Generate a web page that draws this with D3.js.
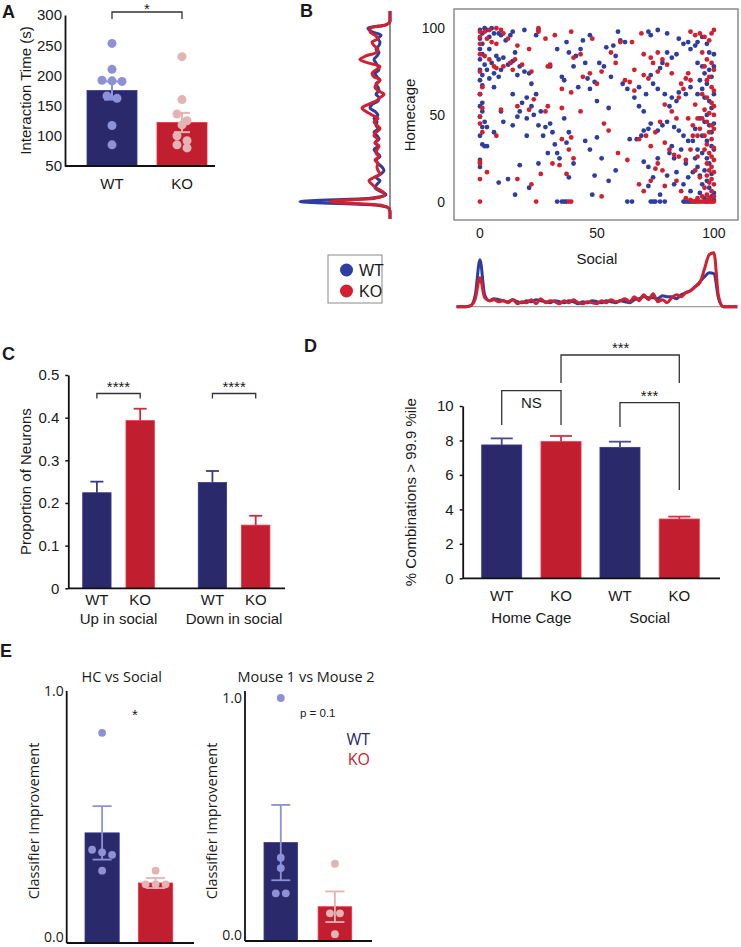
<!DOCTYPE html>
<html>
<head>
<meta charset="utf-8">
<script src="https://cdn.jsdelivr.net/npm/d3@7"></script>
<style>
  body { margin: 0; background: #fff; }
  svg { display: block; }
</style>
</head>
<body>
<svg id="fig"></svg>
<script>
// -----------------------------
// DATA
// -----------------------------
const genotypes = ["WT", "KO"];

// A: interaction time
const ticksA = [50, 100, 150, 200, 250, 300];
const meanA = [175, 122];
const semA = [15, 16];
const pointsA_WT = [253, 210, 192, 191, 190, 166, 162, 117, 85];
const pointsA_KO = [231, 160, 136, 125, 118, 100, 92, 85, 80];

// B: scatter (social, homecage)
const wtScatter = [
  [0,99],[1,97],[0,94],[1,91],[0,88],[1,85],[0,82],[2,79],[0,76],[1,73],[0,70],[1,67],[0,62],[1,57],[0,55],[1,52],[0,49],[2,46],[1,43],[3,43],[0,38],[1,33],[2,32],[3,32],[0,24],[0,20],
  [2,100],[3,99],[5,100],[6,97],[4,95],[8,97],[9,96],[11,93],[13,96],[14,98],[19,99],[25,99],[24,96],[4,88],[7,84],[8,82],[5,80],[10,83],[12,79],[14,81],[15,86],[17,78],[3,76],[6,74],[9,76],[13,80],[16,73],[19,75],[21,74],[6,66],[8,72],[4,71],
  [14,62],[18,57],[20,60],[22,68],[24,62],[22,55],[17,52],[9,52],[10,46],[6,40],[14,44],[16,49],[20,48],[23,50],[26,52],[25,44],[28,43],[31,40],[27,38],[30,45],[20,38],[32,33],[29,28],[33,28],[25,22],[17,21],[12,13],[8,11],[15,4],[21,8],[36,48],[38,40],[37,34],[34,25],[40,22],[38,14],
  [30,78],[33,88],[37,92],[38,86],[41,84],[43,88],[44,93],[47,96],[45,80],[40,78],[42,66],[36,70],[35,72],[46,71],[47,65],[49,69],[50,58],[55,54],[56,72],[53,78],[51,80],[54,89],[57,90],[59,98],[60,93],[62,92],[58,84],[61,68],[63,65],[45,35],[50,37],[47,30],[52,25],[49,15],[48,4],[55,12],[58,18],[33,0],[35,0],[36,0],[37,0],
  [64,36],[67,36],[69,38],[70,41],[72,42],[73,45],[70,52],[68,55],[66,60],[68,66],[71,62],[74,68],[73,73],[77,77],[78,80],[80,86],[82,83],[84,85],[76,65],[79,62],[82,60],[85,63],[88,62],[90,66],[84,58],[81,55],[76,41],[78,44],[80,46],[83,43],[85,41],[87,38],[89,35],[82,32],[81,28],[83,25],[86,30],[88,22],[76,25],[72,20],[70,23],[74,14],[80,15],[83,10],[84,17],[87,10],[89,14],[90,6],[77,4],[72,9],
  [63,0],[65,0],[73,0],[74,0],[75,0],[77,0],[79,0],[87,0],[88,0],[89,0],[90,0],[91,0],[92,0],[76,99],[72,98],[73,96],[80,97],[85,94],[87,91],[89,92],[90,88],[92,90],[93,92],[95,95],[97,91],[98,86],
  [93,80],[95,78],[96,74],[98,76],[99,72],[97,68],[95,65],[93,62],[96,60],[98,58],[99,54],[97,50],[94,48],[96,46],[98,44],[99,40],[95,38],[97,35],[99,32],[93,30],[95,28],[97,25],[98,22],[96,18],[99,16],[94,15],[97,12],[95,10],[98,8],[100,5],[99,3],[96,2],[100,30],[100,45],[100,62],[100,78],[100,85],[94,70],[92,42],[91,35],[92,25],[93,20],[91,17],[94,5],[97,0],[99,0],[100,1]
];
const koScatter = [
  [0,98],[0,95],[0,91],[0,85],[0,75],[1,66],[0,62],[1,54],[0,49],[0,45],[1,40],[0,23],[0,22],[0,13],[0,0],[3,17],[7,38],
  [2,98],[4,99],[7,100],[9,99],[10,97],[3,94],[5,92],[7,91],[12,94],[16,90],[21,88],[25,100],[25,98],[28,94],[32,96],[39,98],[6,78],[10,78],[13,80],[15,82],[14,76],[18,79],[22,75],[2,84],[4,82],[7,77],[30,79],[29,78],[35,65],[39,63],[47,74],[40,83],[43,85],[48,94],[44,72],[50,68],[52,75],[56,86],[58,80],
  [9,53],[16,55],[21,53],[23,59],[29,55],[28,52],[35,54],[43,52],[38,30],[40,25],[39,37],[35,36],[26,16],[31,22],[34,21],[37,16],[24,0],[38,0],[39,0],[16,13],[22,10],[52,3],[53,45],[55,41],[59,28],[63,24],
  [60,92],[65,92],[69,97],[70,85],[73,83],[76,86],[78,82],[74,80],[66,76],[70,73],[62,70],[64,69],[66,64],[72,71],[76,75],[80,79],[82,74],[86,68],[88,71],[89,74],[90,70],[87,65],[85,60],[79,56],[82,52],[84,48],[77,46],[75,40],[71,38],[68,36],[73,32],[79,34],[81,30],[83,27],[85,26],[88,24],[75,19],[78,18],[76,22],[73,12],[68,10],[70,6],[84,12],[86,6],[88,2],[79,9],
  [90,98],[92,96],[94,97],[96,95],[98,93],[99,97],[100,99],[95,86],[97,82],[99,80],[96,78],[100,76],[98,72],[97,70],[99,66],[100,64],[95,62],[97,60],[99,57],[100,55],[96,53],[98,51],[100,50],[95,48],[97,46],[99,44],[100,42],[98,40],[96,38],[99,36],[97,33],[100,31],[96,30],[98,28],[99,26],[100,24],[97,22],[99,20],[98,18],[100,17],[97,15],[99,13],[98,11],[100,10],[96,8],[99,6],[97,4],[100,3],[92,56],[93,48],[94,42],[91,38],[90,30],[93,26],[92,18],[94,14],[91,44],[89,48],[93,38],
  [92,0],[93,0],[94,0],[95,0],[96,0],[97,0],[98,0],[99,0],[100,0],[91,0],[90,1],[93,2],[95,3],[98,2]
];
const scatterTicks = [0, 50, 100];

// B: marginal densities (relative units), sampled on a grid of scores
const densityGrid = [-10,-8,-6,-4,-2,0,2,4,6,8,10,12,14,16,18,20,22,24,26,28,30,32,34,36,38,40,42,44,46,48,50,52,54,56,58,60,62,64,66,68,70,72,74,76,78,80,82,84,86,88,90,92,94,96,98,100,102,104,106,108,110];
const wtHomecageDensity = [0,0,0,1,15,90,20,4,10,15,13,10,14,9,6,8,12,14,10,13,16,12,15,11,13,16,12,14,13,16,12,15,20,18,12,11,14,11,12,14,10,13,15,11,12,14,16,13,11,14,11,10,12,9,18,22,4,0,0,0,0];
const koHomecageDensity = [0,0,0,1,10,60,15,5,8,14,18,21,16,10,12,13,12,15,11,14,13,11,15,12,16,14,10,13,16,12,18,24,28,22,14,10,6,12,15,13,10,16,18,14,10,22,30,24,14,12,16,18,12,15,20,20,4,0,0,0,0];
const wtSocialDensity = [0,0,0,1,12,47,12,6,8,7,6,5,7,5,4,6,5,7,6,5,4,6,5,4,6,5,3,5,4,6,5,4,6,5,4,6,5,4,7,8,10,9,9,8,11,10,10,8,12,14,16,20,25,30,34,33,8,0,0,0,0];
const koSocialDensity = [0,0,0,1,8,29,9,6,7,5,6,4,7,3,5,4,7,3,8,4,6,5,3,6,4,7,4,3,5,4,3,6,4,7,5,6,8,5,10,6,12,7,13,5,7,4,9,12,10,14,16,20,24,38,52,54,10,0,0,0,0];

// C: proportion of neurons
const catsC = ["Up in social", "Down in social"];
const ticksC = [0, 0.1, 0.2, 0.3, 0.4, 0.5];
const meanC_WT = [0.224, 0.248];
const semC_WT = [0.026, 0.027];
const meanC_KO = [0.393, 0.148];
const semC_KO = [0.028, 0.022];

// D: % combinations
const catsD = ["Home Cage", "Social"];
const ticksD = [0, 2, 4, 6, 8, 10];
const meanD_WT = [7.74, 7.60];
const semD_WT = [0.38, 0.33];
const meanD_KO = [7.93, 3.44];
const semD_KO = [0.33, 0.14];

// E: classifier improvement
const titlesE = ["HC vs Social", "Mouse 1 vs Mouse 2"];
const ticksE = [0, 1];
const meanE_WT = [0.437, 0.405];
const semE_WT = [0.106, 0.155];
const meanE_KO = [0.238, 0.141];
const semE_KO = [0.020, 0.063];
const pointsE_WT = [[0.834, 0.37, 0.36, 0.35, 0.287], [1.0, 0.343, 0.30, 0.196, 0.196]];
const pointsE_KO = [[0.287, 0.233, 0.233, 0.233], [0.318, 0.114, 0.114, 0.028]];

// -----------------------------
// STYLE
// -----------------------------
const NAVY = "#29296c", RED = "#c11e2f", LAV = "#8e91d6", PINK = "#e4b3b4";
const DOT_BLUE = "#2d3e9f", DOT_RED = "#d2202f";
const SANS = "'Liberation Sans', Arial, sans-serif";
const HUMAN = "'Open Sans', sans-serif";
const INK = "#1a1a1a";

const svg = d3.select("#fig").attr("width", 741).attr("height", 947)
  .style("font-family", SANS);

// -----------------------------
// HELPERS
// -----------------------------
function label(g, x, y, txt, opts = {}) {
  return g.append("text")
    .attr("x", x).attr("y", y)
    .attr("text-anchor", opts.anchor || "middle")
    .attr("font-size", opts.size || 14)
    .attr("font-weight", opts.weight || "normal")
    .attr("font-family", opts.font || SANS)
    .attr("fill", opts.fill || INK)
    .attr("transform", opts.rotate ? `rotate(-90,${x},${y})` : null)
    .text(txt);
}

function yAxis(g, scale, x, ticks, fmt, size, tickSize, font, top) {
  const ax = d3.axisLeft(scale).tickValues(ticks).tickFormat(fmt)
    .tickSize(tickSize).tickSizeOuter(0).tickPadding(tickSize + 3);
  const a = g.append("g").attr("transform", `translate(${x},0)`).call(ax);
  a.select(".domain").attr("stroke", "#111").attr("stroke-width", 1.8);
  if (top !== undefined) a.select(".domain").attr("d", `M0,${scale.range()[0]}V${top}`);
  a.selectAll(".tick line").attr("stroke", "#111").attr("stroke-width", 1.5);
  a.selectAll(".tick text").attr("font-size", size).attr("fill", INK)
    .attr("font-family", font || SANS);
  return a;
}

function hLine(g, x1, x2, y) {
  g.append("line").attr("x1", x1).attr("x2", x2).attr("y1", y).attr("y2", y)
    .attr("stroke", "#111").attr("stroke-width", 1.8);
}

function bar(g, x, w, y, y0, fill) {
  g.append("rect").attr("x", x).attr("width", w)
    .attr("y", y).attr("height", y0 - y)
    .attr("fill", fill)
    .attr("stroke", d3.color(fill).brighter(0.8)).attr("stroke-width", 0.8);
}

function errBar(g, cx, yHi, yLo, cap, color, width) {
  g.append("line").attr("x1", cx).attr("x2", cx).attr("y1", yHi).attr("y2", yLo)
    .attr("stroke", color).attr("stroke-width", width);
  g.append("line").attr("x1", cx - cap / 2).attr("x2", cx + cap / 2).attr("y1", yHi).attr("y2", yHi)
    .attr("stroke", color).attr("stroke-width", width);
}

function errBarBoth(g, cx, yHi, yLo, cap, color, width) {
  errBar(g, cx, yHi, yLo, cap, color, width);
  g.append("line").attr("x1", cx - cap / 2).attr("x2", cx + cap / 2).attr("y1", yLo).attr("y2", yLo)
    .attr("stroke", color).attr("stroke-width", width);
}

function bracket(g, x1, x2, yTop, y1End, y2End) {
  g.append("path")
    .attr("d", `M${x1},${y1End}V${yTop}H${x2}V${y2End}`)
    .attr("fill", "none").attr("stroke", "#333").attr("stroke-width", 1.3);
}

// swarm: points of near-equal height are set side by side, centred on the bar
function swarm(values, yScale, cx, r, step) {
  const sorted = values.slice().sort((a, b) => b - a).map(v => ({ v, y: yScale(v) }));
  const rows = [];
  sorted.forEach(p => {
    const last = rows[rows.length - 1];
    if (last && Math.abs(last[0].y - p.y) < 2 * r) last.push(p);
    else rows.push([p]);
  });
  const out = [];
  rows.forEach(row => row.forEach((p, i) => out.push({ x: cx + (i - (row.length - 1) / 2) * step, y: p.y })));
  return out;
}

function dots(g, pts, r, color) {
  g.selectAll(null).data(pts).join("circle")
    .attr("cx", d => d.x).attr("cy", d => d.y).attr("r", r).attr("fill", color);
}

// -----------------------------
// PANEL A
// -----------------------------
{
  const g = svg.append("g");
  label(g, 2, 18, "A", { anchor: "start", size: 18, weight: "bold" });
  const y = d3.scaleLinear().domain([50, 300]).range([166, 15]);
  const x = d3.scaleBand().domain(genotypes).range([87, 207]).paddingInner(2 / 7);
  const pts = [pointsA_WT, pointsA_KO];
  const fills = [NAVY, RED], light = [LAV, PINK];

  genotypes.forEach((gt, i) => {
    const cx = x(gt) + x.bandwidth() / 2;
    bar(g, x(gt), x.bandwidth(), y(meanA[i]), y(50), fills[i]);
    dots(g, swarm(pts[i], y, cx, 4.5, 10), 4.5, light[i]);
    errBarBoth(g, cx, y(meanA[i] + semA[i]), y(meanA[i] - semA[i]), 16, light[i], 2);
    label(g, cx, 189, gt, { size: 15 });
  });

  yAxis(g, y, 65, ticksA, d3.format("d"), 15, 0);
  hLine(g, 65, 215, 166);
  label(g, 31, (y(50) + y(300)) / 2, "Interaction Time (s)", { size: 15, rotate: true });

  const c0 = x("WT") + x.bandwidth() / 2, c1 = x("KO") + x.bandwidth() / 2;
  bracket(g, c0, c1, 12, 19, 19);
  label(g, (c0 + c1) / 2, 14, "*", { size: 15 });
}

// -----------------------------
// PANEL B
// -----------------------------
{
  const g = svg.append("g");
  label(g, 300, 17, "B", { anchor: "start", size: 18, weight: "bold" });

  const x = d3.scaleLinear().domain([-11.1, 110.3]).range([454, 738]);
  const y = d3.scaleLinear().domain([-10.6, 111.1]).range([220, 9]);

  g.append("rect").attr("x", 454).attr("y", 9).attr("width", 284).attr("height", 211)
    .attr("fill", "none").attr("stroke", "#7a7a7a").attr("stroke-width", 1.3);

  g.selectAll(null).data(wtScatter).join("circle")
    .attr("cx", d => x(d[0])).attr("cy", d => y(d[1])).attr("r", 2.4).attr("fill", DOT_BLUE);
  g.selectAll(null).data(koScatter).join("circle")
    .attr("cx", d => x(d[0])).attr("cy", d => y(d[1])).attr("r", 2.4).attr("fill", DOT_RED);

  scatterTicks.forEach(t => {
    label(g, x(t), 238, t, { size: 14 });
    label(g, 445, y(t) + 5, t, { size: 14, anchor: "end" });
  });
  label(g, x(50), 264, "Social", { size: 15 });
  label(g, 415, y(50), "Homecage", { size: 15, rotate: true });

  // left marginal (homecage)
  const xl = d3.scaleLinear().domain([0, 100]).range([390, 290]);
  g.append("line").attr("x1", 390).attr("x2", 390).attr("y1", y(110)).attr("y2", y(-10))
    .attr("stroke", "#222").attr("stroke-width", 1);
  const lineL = d3.line().x(d => xl(d[1])).y(d => y(d[0])).curve(d3.curveMonotoneY);
  [[wtHomecageDensity, DOT_BLUE], [koHomecageDensity, DOT_RED]].forEach(([dens, col]) => {
    g.append("path").attr("d", lineL(densityGrid.map((h, i) => [h, dens[i]])))
      .attr("fill", "none").attr("stroke", col).attr("stroke-width", 3).attr("stroke-linejoin", "round");
  });

  // bottom marginal (social)
  const yb = d3.scaleLinear().domain([0, 100]).range([306.7, 206.7]);
  g.append("line").attr("x1", x(-10)).attr("x2", x(110)).attr("y1", 306.7).attr("y2", 306.7)
    .attr("stroke", "#888").attr("stroke-width", 1);
  const lineB = d3.line().x(d => x(d[0])).y(d => yb(d[1])).curve(d3.curveMonotoneX);
  [[wtSocialDensity, DOT_BLUE], [koSocialDensity, DOT_RED]].forEach(([dens, col]) => {
    g.append("path").attr("d", lineB(densityGrid.map((s, i) => [s, dens[i]])))
      .attr("fill", "none").attr("stroke", col).attr("stroke-width", 3).attr("stroke-linejoin", "round");
  });

  // legend
  const lg = g.append("g");
  lg.append("rect").attr("x", 328).attr("y", 255).attr("width", 54).attr("height", 48)
    .attr("fill", "#fff").attr("stroke", "#8a8a8a").attr("stroke-width", 1);
  [[genotypes[0], DOT_BLUE], [genotypes[1], DOT_RED]].forEach(([name, col], i) => {
    lg.append("circle").attr("cx", 346.5).attr("cy", 270 + i * 21).attr("r", 6.5).attr("fill", col);
    label(lg, 359, 276 + i * 21, name, { size: 16, anchor: "start" });
  });
}

// -----------------------------
// PANEL C
// -----------------------------
{
  const g = svg.append("g");
  label(g, 2, 360, "C", { anchor: "start", size: 18, weight: "bold" });
  const y = d3.scaleLinear().domain([0, 0.5]).range([588.3, 375]);
  const x0 = d3.scaleBand().domain(catsC).range([82.7, 269.9]).paddingInner(0.38);
  const x1 = d3.scaleBand().domain(genotypes).range([0, x0.bandwidth()]).paddingInner(0.345);
  const means = [meanC_WT, meanC_KO], sems = [semC_WT, semC_KO], fills = [NAVY, RED];

  catsC.forEach((cat, ci) => {
    genotypes.forEach((gt, gi) => {
      const bx = x0(cat) + x1(gt), cx = bx + x1.bandwidth() / 2;
      const m = means[gi][ci], s = sems[gi][ci];
      bar(g, bx, x1.bandwidth(), y(m), y(0), fills[gi]);
      errBar(g, cx, y(m + s), y(m), 13, gi === 0 ? "#3a3a85" : "#cc2b3c", 1.8);
      label(g, cx, 605, gt, { size: 15 });
    });
    const c0 = x0(cat) + x1("WT") + x1.bandwidth() / 2;
    const c1 = x0(cat) + x1("KO") + x1.bandwidth() / 2;
    bracket(g, c0, c1, 393.5, 398.5, 398.5);
    label(g, (c0 + c1) / 2, 392, "****", { size: 15 });
    label(g, x0(cat) + x0.bandwidth() / 2, 624, cat, { size: 15 });
  });

  yAxis(g, y, 68.3, ticksC, d => d === 0 ? "0" : d3.format(".1f")(d), 15, 3);
  hLine(g, 68.3, 285, 588.3);
  label(g, 31, (y(0) + y(0.5)) / 2, "Proportion of Neurons", { size: 15, rotate: true });
}

// -----------------------------
// PANEL D
// -----------------------------
{
  const g = svg.append("g");
  label(g, 304, 352, "D", { anchor: "start", size: 18, weight: "bold" });
  const y = d3.scaleLinear().domain([0, 10]).range([578.3, 406]);
  const x0 = d3.scaleBand().domain(catsD).range([481.7, 699.3]).paddingInner(0.16);
  const x1 = d3.scaleBand().domain(genotypes).range([0, x0.bandwidth()]).paddingInner(0.325);
  const means = [meanD_WT, meanD_KO], sems = [semD_WT, semD_KO], fills = [NAVY, RED];
  const cx = (cat, gt) => x0(cat) + x1(gt) + x1.bandwidth() / 2;

  catsD.forEach((cat, ci) => {
    genotypes.forEach((gt, gi) => {
      const m = means[gi][ci], s = sems[gi][ci];
      bar(g, x0(cat) + x1(gt), x1.bandwidth(), y(m), y(0), fills[gi]);
      errBar(g, cx(cat, gt), y(m + s), y(m), 22, gi === 0 ? "#4a4a95" : "#d23446", 1.8);
      label(g, cx(cat, gt), 601, gt, { size: 15 });
    });
    label(g, x0(cat) + x0.bandwidth() / 2, 623, cat, { size: 15 });
  });

  yAxis(g, y, 462.7, ticksD, d3.format("d"), 15, 3);
  hLine(g, 462.7, 720, 578.3);
  label(g, 416, (y(0) + y(10)) / 2, "% Combinations > 99.9 %ile", { size: 15, rotate: true });

  // NS: WT vs KO home cage
  const hcW = cx("Home Cage", "WT"), hcK = cx("Home Cage", "KO");
  const soW = cx("Social", "WT"), soK = cx("Social", "KO");
  bracket(g, hcW, hcK, 390.7, 425, 425);
  label(g, (hcW + hcK) / 2, 408, "NS", { size: 15 });
  // KO home cage vs KO social
  bracket(g, hcK, soK, 355, 383, 383);
  label(g, (hcK + soK) / 2 + 0.5, 353, "***", { size: 15 });
  // WT social vs KO social
  bracket(g, soW, soK, 402.7, 427, 490);
  label(g, (soW + soK) / 2, 401, "***", { size: 15 });
}

// -----------------------------
// PANEL E
// -----------------------------
{
  const g = svg.append("g");
  label(g, 0, 657, "E", { anchor: "start", size: 18, weight: "bold" });

  const layout = [
    { axisX: 66.7, axisEnd: 194, titleX: 121.7, y0: 943, y1: 691, range: [85, 172.7], pad: 0.36 },
    { axisX: 245, axisEnd: 372, titleX: 306, y0: 941, y1: 698, range: [264, 351.7], pad: 0.38 }
  ];
  const fills = [NAVY, RED], light = [LAV, PINK];
  const means = [meanE_WT, meanE_KO], sems = [semE_WT, semE_KO], pts = [pointsE_WT, pointsE_KO];

  layout.forEach((L, pi) => {
    const y = d3.scaleLinear().domain([0, 1]).range([L.y0, L.y1]);
    const x = d3.scaleBand().domain(genotypes).range(L.range).paddingInner(L.pad);
    genotypes.forEach((gt, gi) => {
      const cx = x(gt) + x.bandwidth() / 2;
      const m = means[gi][pi], s = sems[gi][pi];
      bar(g, x(gt), x.bandwidth(), y(m), y(0), fills[gi]);
      dots(g, swarm(pts[gi][pi], y, cx, 3.9, 10), 3.9, light[gi]);
      errBarBoth(g, cx, y(m + s), y(m - s), 19, light[gi], 1.8);
    });
    const a = yAxis(g, y, L.axisX, ticksE, d3.format(".1f"), 14, 0, HUMAN, 691);
    a.selectAll(".tick text").filter(d => d === 0).attr("y", -6);
    hLine(g, L.axisX, L.axisEnd, L.y0);
    label(g, L.titleX, 682, titlesE[pi], { size: 14.5, font: HUMAN });
    label(g, L.axisX - 28, 821, "Classifier  Improvement", { size: 14.5, font: HUMAN, rotate: true });
  });

  label(g, 135, 720, "*", { size: 15 });
  label(g, 300, 717, "p = 0.1", { size: 11.5, anchor: "start" });
  label(g, 370, 745, genotypes[0], { size: 16, anchor: "end", fill: NAVY, font: HUMAN });
  label(g, 370, 765, genotypes[1], { size: 16, anchor: "end", fill: RED, font: HUMAN });
}
</script>
</body>
</html>
